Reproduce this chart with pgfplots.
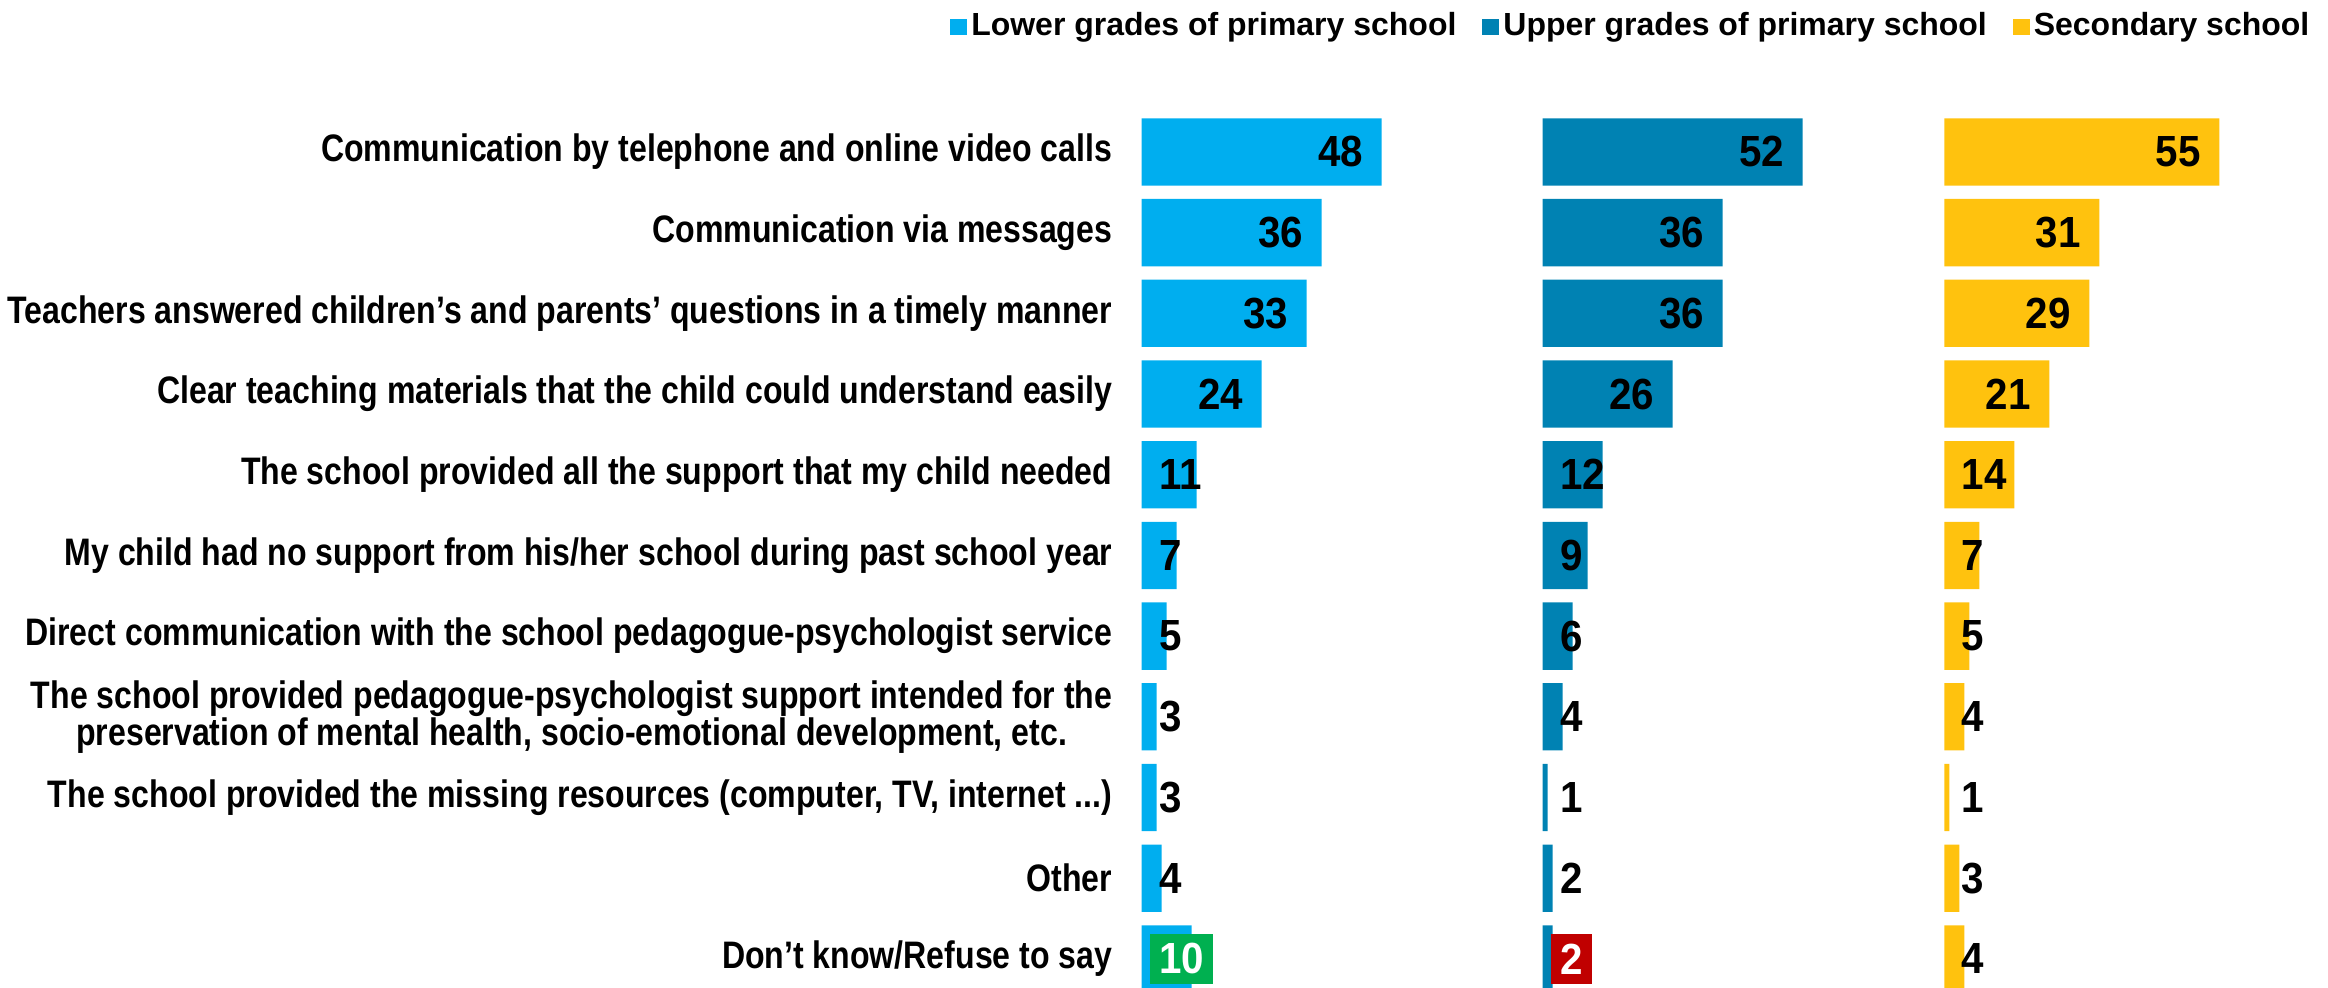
\documentclass[border=0pt]{standalone}
\usepackage{fontspec}
\setmainfont{Liberation Sans}
\newfontfamily\lblfont{Liberation Sans}[FakeStretch=0.837]
\newfontfamily\numfont{Liberation Sans}[FakeStretch=0.925]
\usepackage{pgfplots}
\pgfplotsset{compat=1.18}
\usepackage{pgfplotstable}
\definecolor{lowblue}{HTML}{00AEEF}
\definecolor{upblue}{HTML}{0082B3}
\definecolor{secyel}{HTML}{FFC20E}
\definecolor{boxgreen}{HTML}{00B050}
\definecolor{boxred}{HTML}{C00000}

\pgfplotstableread{
row v
0 48
1 36
2 33
3 24
4 11
5 7
6 5
7 3
8 3
9 4
10 10
}\tabLower
\pgfplotstableread{
row v
0 52
1 36
2 36
3 26
4 12
5 9
6 6
7 4
8 1
9 2
10 2
}\tabUpper
\pgfplotstableread{
row v
0 55
1 31
2 29
3 21
4 14
5 7
6 5
7 4
8 1
9 3
10 4
}\tabSec

\tikzset{lblpos/.code={%
  \ifdim#1pt<16pt
    \pgfkeysalso{anchor=west,xshift={(1.6-#1)*0.05cm}}%
  \else
    \pgfkeysalso{anchor=east,xshift=-0.09cm}%
  \fi}}

\pgfplotsset{
  panel/.style={
    x=0.05cm, y=0.807cm, y dir=reverse,
    xmin=0, xmax=76, ymin=-0.6, ymax=10.36,
    anchor=south west,
    axis line style={draw=none}, tick style={draw=none},
    major tick length=0pt,
    xtick=\empty, ytick=\empty,
  },
  barplot/.style={
    xbar, bar width=0.673cm, bar shift=0pt, fill=#1, draw=none,
    forget plot,
    point meta=explicit symbolic,
    nodes near coords={\pgfplotspointmeta},
    every node near coord/.append style={font=\numfont\bfseries\fontsize{12.4}{14}\selectfont,
      text=black, inner xsep=0.09cm, inner ysep=0pt, lblpos=\pgfplotspointmeta},
  },
  boxplot/.style={
    xbar, bar width=0.673cm, bar shift=0pt, fill=none, draw=none,
    forget plot, skip coords between index={0}{10},
    point meta=explicit symbolic,
    nodes near coords={\pgfplotspointmeta},
    every node near coord/.append style={font=\numfont\bfseries\fontsize{12.4}{14}\selectfont,
      fill=#1, text=white, inner xsep=0.09cm, inner ysep=0.095cm, lblpos=\pgfplotspointmeta},
  },
}

\begin{document}
\begin{tikzpicture}
\begin{axis}[panel, at={(11.417cm,0cm)},
  ytick={0,1,2,3,4,5,6,7,8,9,10},
  yticklabels={Communication by telephone and online video calls,
    Communication via messages,
    Teachers answered children’s and parents’ questions in a timely manner,
    Clear teaching materials that the child could understand easily,
    The school provided all the support that my child needed,
    {My child had no support from his/her school during past school year},
    Direct communication with the school pedagogue-psychologist service,
    {The school provided pedagogue-psychologist support intended for the\\ preservation of mental health, socio-emotional development, etc.},
    {The school provided the missing resources (computer, TV, internet .{}.{}.)},
    Other,
    Don’t know/Refuse to say},
  yticklabel style={font=\lblfont\bfseries\fontsize{10.9}{10.5}\selectfont,
    align=center, inner sep=0pt, xshift=-0.287cm, text=black},
]
\addplot[barplot=lowblue] table[x=v, y=row, meta=v] {\tabLower};
\addplot[boxplot=boxgreen] table[x=v, y=row, meta=v] {\tabLower};
\end{axis}
\begin{axis}[panel, at={(15.427cm,0cm)}]
\addplot[barplot=upblue] table[x=v, y=row, meta=v] {\tabUpper};
\addplot[boxplot=boxred] table[x=v, y=row, meta=v] {\tabUpper};
\end{axis}
\begin{axis}[panel, at={(19.443cm,0cm)},
  legend columns=3,
  legend style={at={(0.973,1.0865)}, anchor=east, draw=none, fill=none,
    inner sep=0pt, font=\bfseries\fontsize{9.1}{11}\selectfont,
    nodes={inner xsep=0.04cm, inner ysep=0pt},
    /tikz/every even column/.append style={column sep=0.22cm}},
  legend image code/.code={\fill[#1] (0cm,-0.08cm) rectangle (0.17cm,0.08cm);},
]
\addlegendimage{fill=lowblue, draw=none}
\addlegendentry{Lower grades of primary school}
\addlegendimage{fill=upblue, draw=none}
\addlegendentry{Upper grades of primary school}
\addlegendimage{fill=secyel, draw=none}
\addlegendentry{Secondary school}
\addplot[barplot=secyel] table[x=v, y=row, meta=v] {\tabSec};
\end{axis}
\pgfresetboundingbox
\path[use as bounding box] (0,0) rectangle (23.28,9.88);
\end{tikzpicture}
\end{document}
